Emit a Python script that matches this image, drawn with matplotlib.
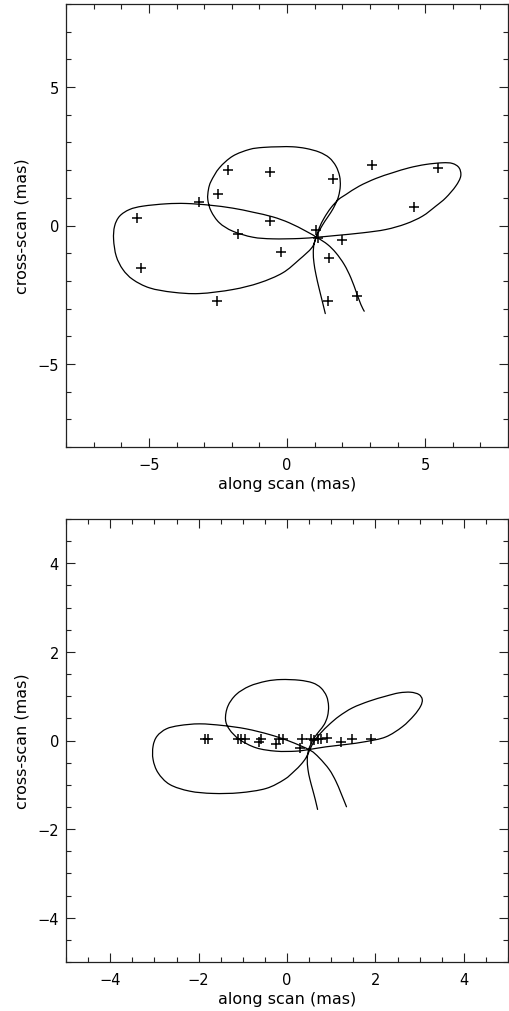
import matplotlib
matplotlib.use("Agg")
import matplotlib.pyplot as plt
import numpy as np
from matplotlib.ticker import MultipleLocator
from matplotlib.path import Path
from matplotlib.patches import PathPatch

plt.rcParams['font.family'] = ['DejaVu Sans']

# ---- upper panel: measured positions (mas) ----
top_pts_x = [-5.42, -5.30, -3.19, -2.51, -2.12, -0.60, -0.60, -1.76, -0.23, -2.54,
             1.65, 3.06, 4.60, 1.05, 1.13, 1.98, 1.53, 1.47, 2.55, 5.48]
top_pts_y = [0.28, -1.55, 0.84, 1.12, 2.02, 1.95, 0.18, -0.30, -0.96, -2.74,
             1.69, 2.18, 0.68, -0.15, -0.45, -0.51, -1.19, -2.74, -2.55, 2.07]

# upper panel: model path (mas)
top_path_x = [1.386, 1.277, 1.157, 1.048, 0.976, 0.952, 0.976, 1.060, 1.193, 1.373,
              1.578, 1.747, 1.867, 1.928, 1.904, 1.771, 1.530, 1.169, 0.687, 0.205,
              -0.277, -0.880, -1.361, -1.964, -2.446, -2.747, -2.843, -2.867, -2.747, -2.446,
              -1.964, -1.241, -0.518, 0.446, 1.108,
              1.771, 2.735, 3.578, 4.301, 4.904, 5.386, 5.747, 6.108, 6.289, 6.229,
              5.988, 5.627, 5.024, 4.422, 3.819, 3.217, 2.614, 2.133, 1.867, 1.590,
              1.349, 1.169, 1.048, 0.900,
              0.446, -0.157, -1.000, -1.964, -3.169, -4.133, -4.976, -5.578, -5.940,
              -6.181, -6.277, -6.241, -6.060, -5.699, -5.217, -4.373, -3.651, -2.807, -1.964,
              -1.241, -0.518, 0.084, 0.687, 1.108,
              1.470, 1.771, 2.072, 2.313, 2.518, 2.675, 2.795]
top_path_y = [-3.181, -2.735, -2.253, -1.771, -1.349, -0.988, -0.687, -0.410, -0.145, 0.157,
              0.458, 0.759, 1.060, 1.422, 1.783, 2.145, 2.446, 2.651, 2.783, 2.843,
              2.843, 2.819, 2.747, 2.506, 2.084, 1.602, 1.301, 0.940, 0.518, 0.096,
              -0.205, -0.422, -0.482, -0.470, -0.422,
              -0.361, -0.265, -0.145, 0.060, 0.337, 0.699, 1.000, 1.422, 1.783, 2.084,
              2.241, 2.265, 2.205, 2.084, 1.904, 1.699, 1.422, 1.120, 0.940, 0.639,
              0.277, -0.084, -0.446, -0.800,
              -1.229, -1.711, -2.072, -2.313, -2.458, -2.410, -2.253, -1.952, -1.590,
              -1.108, -0.506, -0.024, 0.337, 0.578, 0.699, 0.783, 0.795, 0.735, 0.627,
              0.482, 0.313, 0.096, -0.205, -0.446,
              -0.687, -0.988, -1.410, -1.892, -2.434, -2.855, -3.096]

# ---- lower panel: measured positions (mas) ----
bot_pts_x = [-1.86, -1.79, -1.11, -1.04, -0.96, -0.64, -0.59, -0.26, -0.17, -0.10,
             0.30, 0.35, 0.55, 0.62, 0.70, 0.78, 0.90, 1.22, 1.48, 1.90]
bot_pts_y = [0.03, 0.03, 0.03, 0.03, 0.03, -0.03, 0.03, -0.08, 0.03, 0.03,
             -0.17, 0.03, 0.03, 0.02, 0.03, 0.03, 0.05, -0.04, 0.03, 0.03]

# lower panel: model path (mas)
bot_path_x = [0.692, 0.639, 0.579, 0.519, 0.474, 0.459, 0.481, 0.526, 0.617, 0.729,
              0.842, 0.917, 0.940, 0.895, 0.767, 0.579, 0.278, -0.135, -0.474, -0.850,
              -1.150, -1.338, -1.391, -1.301, -1.075, -0.699, -0.248, 0.203, 0.504,
              0.880, 1.331, 1.782, 2.233, 2.609, 2.872, 3.023, 3.060, 2.985, 2.797,
              2.534, 2.233, 1.857, 1.481, 1.180, 0.955, 0.767, 0.617, 0.519, 0.429,
              0.316, 0.165, -0.060, -0.474, -1.075, -1.677, -2.203, -2.654, -2.917, -3.030,
              -3.030, -2.940, -2.729, -2.429, -1.977, -1.451, -0.925, -0.398, 0.053, 0.519,
              0.729, 0.955, 1.105, 1.218, 1.346]
bot_path_y = [-1.556, -1.331, -1.105, -0.880, -0.654, -0.429, -0.241, -0.113, 0.060, 0.211,
              0.361, 0.549, 0.774, 1.000, 1.188, 1.301, 1.361, 1.376, 1.338, 1.226,
              1.038, 0.774, 0.474, 0.248, 0.023, -0.165, -0.241, -0.241, -0.203,
              -0.143, -0.090, -0.025, 0.080, 0.310, 0.564, 0.774, 0.925, 1.038, 1.090,
              1.075, 1.000, 0.887, 0.737, 0.549, 0.361, 0.173, -0.015, -0.203, -0.391,
              -0.541, -0.692, -0.880, -1.083, -1.180, -1.195, -1.143, -0.992, -0.729, -0.429,
              -0.128, 0.098, 0.263, 0.338, 0.376, 0.338, 0.263, 0.135, -0.015, -0.218,
              -0.391, -0.654, -0.917, -1.180, -1.496]

W, H = 509, 1012
fig = plt.figure(figsize=(W / 100, H / 100), dpi=100)
ax_top = fig.add_axes([66 / W, 1 - 448 / H, 442 / W, 443 / H])
ax_bot = fig.add_axes([66 / W, 1 - 963 / H, 442 / W, 443 / H])


def style(ax, lim, major, minor):
    ax.set_xlim(-lim, lim)
    ax.set_ylim(-lim, lim)
    ax.xaxis.set_major_locator(MultipleLocator(major))
    ax.yaxis.set_major_locator(MultipleLocator(major))
    ax.xaxis.set_minor_locator(MultipleLocator(minor))
    ax.yaxis.set_minor_locator(MultipleLocator(minor))
    ax.tick_params(which='both', direction='in', top=True, right=True,
                   width=0.8, color='#222222', labelsize=10.5)
    ax.tick_params(which='major', length=6.5)
    ax.tick_params(which='minor', length=3.6)
    ax.tick_params(axis='x', pad=7)
    ax.tick_params(axis='y', pad=5)
    for s in ax.spines.values():
        s.set_linewidth(0.9)
        s.set_color('#222222')
    ax.set_xlabel('along scan (mas)', fontsize=11.5, labelpad=3)
    ax.set_ylabel('cross-scan (mas)', fontsize=11.5, labelpad=6)


def smooth_path(ax, xs, ys):
    """Draw a smooth curve through the given vertices using cubic Bezier segments."""
    p = np.column_stack([xs, ys])
    ext = np.vstack([p[0], p, p[-1]])
    verts = [p[0]]
    codes = [Path.MOVETO]
    for i in range(len(p) - 1):
        p0, p1, p2, p3 = ext[i], ext[i + 1], ext[i + 2], ext[i + 3]
        verts += [p1 + (p2 - p0) / 6.0, p2 - (p3 - p1) / 6.0, p2]
        codes += [Path.CURVE4] * 3
    ax.add_patch(PathPatch(Path(verts, codes), fill=False, edgecolor='black',
                           lw=0.9, capstyle='round', joinstyle='round'))


style(ax_top, 8, 5, 1)
style(ax_bot, 5, 2, 0.5)

smooth_path(ax_top, top_path_x, top_path_y)
ax_top.plot(top_pts_x, top_pts_y, ls='none', marker='+', ms=7, mew=1.1, color='black')

smooth_path(ax_bot, bot_path_x, bot_path_y)
ax_bot.plot(bot_pts_x, bot_pts_y, ls='none', marker='+', ms=7, mew=1.1, color='black')

fig.savefig('out.png', dpi=100)
